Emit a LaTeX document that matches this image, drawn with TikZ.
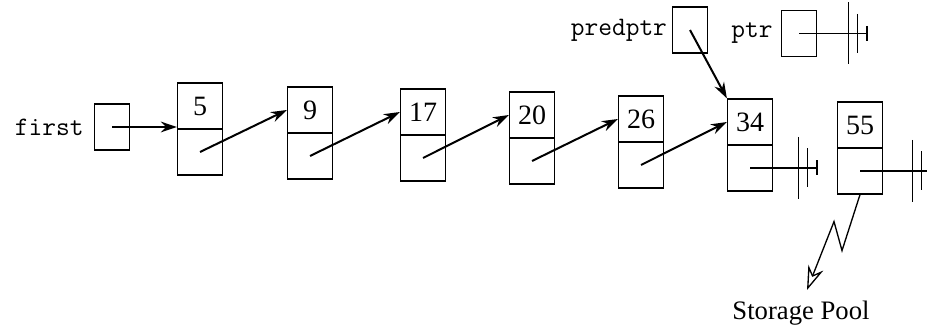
\documentclass[tikz,border=0pt]{standalone}
\usepackage{fontspec}
\setmainfont{Liberation Serif}
\usetikzlibrary{positioning}
\usetikzlibrary{arrows.meta}

% three bars that end a null link
\newcommand{\nullbars}[1]{%
  \draw[nullline] (#1) ++(0,-7.5) -- ++(0,15);
  \draw[nullline] (#1) ++(-9.5,-19.5) -- ++(0,39);
  \draw[nullline] (#1) ++(-18.5,-31) -- ++(0,62);
}

\begin{document}
\begin{tikzpicture}[x=0.75pt, y=-0.75pt,
    cell/.style={draw, line width=0.9pt,
        minimum width=33.75pt, minimum height=34.5pt, inner sep=0pt,
        font=\fontsize{21}{24}\selectfont},
    ptrbox/.style={draw, line width=0.9pt,
        minimum width=26.25pt, minimum height=34.5pt, inner sep=0pt},
    varlabel/.style={inner sep=0pt, font=\ttfamily\fontsize{20}{22}\selectfont},
    link/.style={line width=1.5pt, -{Stealth[length=12pt, width=8pt]}},
    nullline/.style={line width=0.9pt},
    release/.style={line width=1pt, -{Stealth[open, length=18pt, width=12pt, inset=6pt]}}
]
\clip (0,0) rectangle (927,334);

% pointer variables
\node[ptrbox] (first) at (112,127) {};
\node[varlabel, left=7.5pt of first] {first};
\node[ptrbox] (predptr) at (690,30) {};
\node[varlabel, left=3.5pt of predptr] {predptr};
\node[ptrbox] (ptr) at (799,33.5) {};
\node[varlabel, left=6pt of ptr] {ptr};

% list nodes
\node[cell] (d5) at (200,106) {5};
\node[cell, below=-0.9pt of d5] (n5) {};
\node[cell] (d9) at (310,110) {9};
\node[cell, below=-0.9pt of d9] (n9) {};
\node[cell] (d17) at (423,112) {17};
\node[cell, below=-0.9pt of d17] (n17) {};
\node[cell] (d20) at (532,115) {20};
\node[cell, below=-0.9pt of d20] (n20) {};
\node[cell] (d26) at (641,119) {26};
\node[cell, below=-0.9pt of d26] (n26) {};
\node[cell] (d34) at (750,122) {34};
\node[cell, below=-0.9pt of d34] (n34) {};
\node[cell] (d55) at (860,125) {55};
\node[cell, below=-0.9pt of d55] (n55) {};

\draw[link] (first.center) -- (first.center -| d5.west);
\draw[link] (n5.center) -- (d9.west);
\draw[link] (n9.center) -- (d17.west);
\draw[link] (n17.center) -- (d20.west);
\draw[link] (n20.center) -- (d26.west);
\draw[link] (n26.center) -- (d34.west);
\draw[link] (predptr.center) -- (d34.north west);

% null links
\path (ptr.center) ++(68,0) coordinate (ptrnull);
\draw[nullline] (ptr.center) -- (ptrnull);
\nullbars{ptrnull}
\path (n34.center) ++(67,0) coordinate (nil34);
\draw[nullline] (n34.center) -- (nil34);
\nullbars{nil34}
\path (n55.center) ++(71,0) coordinate (nil55);
\draw[nullline] (n55.center) -- (nil55);
\nullbars{nil55}

% back to the pool
\node[inner sep=0pt, font=\fontsize{20}{24}\selectfont] (pool) at (801,313) {Storage Pool};
\coordinate (sink) at (807,290);
\draw[release] (n55.south) -- ++(-18,56) -- ++(-8,-29) -- (sink);

\end{tikzpicture}
\end{document}
